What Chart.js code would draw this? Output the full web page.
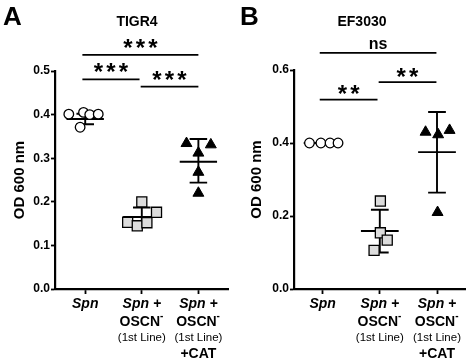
<!DOCTYPE html>
<html>
<head>
<meta charset="utf-8">
<title>OD 600 nm - TIGR4 / EF3030</title>
<script src="https://cdn.jsdelivr.net/npm/chart.js@4/dist/chart.umd.min.js"></script>
<style>
    body { margin: 0; background: #fff; }
    .panel { position: absolute; top: 0; width: 237px; height: 364px; }
</style>
</head>
<body>
<div class="panel" style="left: 0;"><canvas id="chart-a"></canvas></div>
<div class="panel" style="left: 237px;"><canvas id="chart-b"></canvas></div>

<script>
// -------------------------------------------------------------
// DATA
// -------------------------------------------------------------

const categories = [1, 2, 3];
const categoryLabels = [
    ['Spn'],
    ['Spn +', 'OSCN-', '(1st Line)'],
    ['Spn +', 'OSCN-', '(1st Line)', '+CAT']
];

// Panel A - TIGR4
const tigrSpnX = [-0.29, -0.03, 0.08, 0.23, -0.09];
const tigrSpnY = [0.401, 0.405, 0.400, 0.401, 0.371];
const tigrOscnX = [0.00, 0.26, -0.25, -0.08, 0.09];
const tigrOscnY = [0.200, 0.176, 0.153, 0.145, 0.152];
const tigrCatX = [-0.21, 0.22, 0.00, 0.00, 0.00];
const tigrCatY = [0.334, 0.331, 0.312, 0.268, 0.220];
const tigrMean = [0.390, 0.165, 0.292];
const tigrSdHigh = [0.402, 0.187, 0.344];
const tigrSdLow = [0.378, 0.143, 0.244];
const tigrSigFrom = [0.95, 1.98, 0.95];
const tigrSigTo = [1.96, 3.00, 3.00];
const tigrSigY = [0.481, 0.464, 0.537];
const tigrSigText = ['***', '***', '***'];

// Panel B - EF3030
const efSpnX = [-0.23, -0.03, 0.13, 0.27];
const efSpnY = [0.400, 0.400, 0.400, 0.400];
const efOscnX = [0.01, 0.01, 0.13, -0.10];
const efOscnY = [0.241, 0.154, 0.134, 0.106];
const efCatX = [-0.20, 0.02, 0.22, 0.01];
const efCatY = [0.430, 0.423, 0.435, 0.210];
const efMean = [0.400, 0.159, 0.375];
const efSdHigh = [0.400, 0.217, 0.485];
const efSdLow = [0.400, 0.100, 0.264];
const efSigFrom = [0.95, 1.98, 0.95];
const efSigTo = [1.96, 2.99, 2.99];
const efSigY = [0.519, 0.567, 0.647];
const efSigText = ['**', '**', 'ns'];

// -------------------------------------------------------------
// HELPERS
// -------------------------------------------------------------

const FONT = 'Arial, "Liberation Sans", Helvetica, sans-serif';
const MEAN_HALF = 0.33;
const CAP_HALF = 0.155;

function toPoints(cat, offsets, values) {
    return values.map((v, i) => ({ x: cat + offsets[i], y: v }));
}

// mean line + SD whiskers as one broken line dataset
function errorBars(mean, hi, lo) {
    const pts = [];
    categories.forEach((c, i) => {
        pts.push({ x: c - MEAN_HALF, y: mean[i] }, { x: c + MEAN_HALF, y: mean[i] }, { x: c, y: null });
        pts.push({ x: c - CAP_HALF, y: hi[i] }, { x: c + CAP_HALF, y: hi[i] }, { x: c, y: null });
        pts.push({ x: c - CAP_HALF, y: lo[i] }, { x: c + CAP_HALF, y: lo[i] }, { x: c, y: null });
        pts.push({ x: c, y: hi[i] }, { x: c, y: lo[i] }, { x: c, y: null });
    });
    return pts;
}

function drawCentered(ctx, text, cx, cy) {
    // centre the real ink box of the glyphs on (cx, cy)
    const m = ctx.measureText(text);
    const base = cy + (m.actualBoundingBoxAscent - m.actualBoundingBoxDescent) / 2;
    ctx.fillText(text, cx, base);
}

const decorPlugin = {
    id: 'decor',
    afterDraw(chart, args, opts) {
        const { ctx, scales: { x, y } } = chart;
        ctx.save();
        ctx.fillStyle = '#000';
        ctx.strokeStyle = '#000';

        // panel letter
        ctx.textAlign = 'left';
        ctx.textBaseline = 'alphabetic';
        ctx.font = 'bold 26px ' + FONT;
        ctx.fillText(opts.letter, 3, 25);

        // title
        ctx.textAlign = 'center';
        ctx.font = 'bold 14px ' + FONT;
        drawCentered(ctx, opts.title, opts.titleX, 21);

        // significance bars
        ctx.lineWidth = 1.8;
        opts.sigFrom.forEach((from, i) => {
            const x1 = x.getPixelForValue(from);
            const x2 = x.getPixelForValue(opts.sigTo[i]);
            const yy = y.getPixelForValue(opts.sigY[i]);
            ctx.beginPath();
            ctx.moveTo(x1, yy);
            ctx.lineTo(x2, yy);
            ctx.stroke();

            const label = opts.sigText[i];
            const mid = (x1 + x2) / 2;
            if (label.startsWith('*')) {
                ctx.font = 'bold 24px ' + FONT;
                const n = label.length;
                for (let k = 0; k < n; k++) {
                    drawCentered(ctx, '*', mid + (k - (n - 1) / 2) * 12.5, yy - opts.starGap);
                }
            } else {
                ctx.font = 'bold 16px ' + FONT;
                drawCentered(ctx, label, mid, yy - 8);
            }
        });

        // category labels (mixed styles)
        const base = chart.chartArea.bottom;
        const lineY = [15.2, 32.7, 48.4, 65];
        ctx.textBaseline = 'middle';
        categoryLabels.forEach((lines, i) => {
            const cx = x.getPixelForValue(categories[i]);
            lines.forEach((line, j) => {
                const cy = base + lineY[j];
                ctx.textAlign = 'center';
                if (line.startsWith('Spn')) {
                    ctx.font = 'italic bold 14px ' + FONT;
                    ctx.fillText(line, cx, cy);
                } else if (line.startsWith('(')) {
                    ctx.font = '11.5px ' + FONT;
                    ctx.fillText(line, cx, cy);
                } else if (line.endsWith('-')) {
                    const body = line.slice(0, -1);
                    ctx.font = 'bold 14px ' + FONT;
                    const w = ctx.measureText(body).width;
                    ctx.textAlign = 'left';
                    ctx.fillText(body, cx - (w + 4) / 2, cy);
                    ctx.font = 'bold 10px ' + FONT;
                    ctx.fillText('-', cx - (w + 4) / 2 + w, cy - 5);
                } else {
                    ctx.font = 'bold 14px ' + FONT;
                    ctx.fillText(line, cx, cy);
                }
            });
        });

        ctx.restore();
    }
};

function buildChart(canvasId, cfg) {
    const ctx = document.getElementById(canvasId).getContext('2d');
    return new Chart(ctx, {
        type: 'scatter',
        data: {
            datasets: [
                {
                    type: 'line',
                    data: errorBars(cfg.mean, cfg.sdHigh, cfg.sdLow),
                    borderColor: '#000',
                    borderWidth: 1.9,
                    pointRadius: 0,
                    spanGaps: false,
                    order: 2
                },
                {
                    data: toPoints(1, cfg.spnX, cfg.spnY),
                    pointStyle: 'circle',
                    pointRadius: 4.8,
                    backgroundColor: '#fff',
                    borderColor: '#000',
                    borderWidth: 1.3,
                    order: 1
                },
                {
                    data: toPoints(2, cfg.oscnX, cfg.oscnY),
                    pointStyle: 'rect',
                    pointRadius: 7.1,
                    backgroundColor: '#dcdcdc',
                    borderColor: '#000',
                    borderWidth: 1.3,
                    order: 1
                },
                {
                    data: toPoints(3, cfg.catX, cfg.catY),
                    pointStyle: 'triangle',
                    pointRadius: 6.3,
                    backgroundColor: '#000',
                    borderColor: '#000',
                    borderWidth: 1,
                    order: 1
                }
            ]
        },
        options: {
            responsive: true,
            maintainAspectRatio: false,
            devicePixelRatio: 1,
            animation: false,
            events: [],
            layout: { padding: { top: cfg.padTop, right: cfg.padRight, left: 0, bottom: 0 } },
            plugins: {
                legend: { display: false },
                tooltip: { enabled: false },
                decor: {
                    letter: cfg.letter,
                    title: cfg.title,
                    titleX: cfg.titleX,
                    starGap: cfg.starGap,
                    sigFrom: cfg.sigFrom,
                    sigTo: cfg.sigTo,
                    sigY: cfg.sigY,
                    sigText: cfg.sigText
                }
            },
            scales: {
                x: {
                    type: 'linear',
                    min: cfg.xMin,
                    max: cfg.xMax,
                    afterBuildTicks: s => { s.ticks = categories.map(v => ({ value: v })); },
                    afterFit: s => { s.height = 75; },
                    ticks: { callback: () => '', padding: 0 },
                    grid: { drawOnChartArea: false, tickLength: 5, tickWidth: 1.8, tickColor: '#000' },
                    border: { color: '#000', width: 2.2 }
                },
                y: {
                    min: 0,
                    max: cfg.yMax,
                    afterFit: s => { s.width = cfg.axisLeft; },
                    ticks: {
                        stepSize: cfg.yStep,
                        padding: 1,
                        color: '#000',
                        font: { family: FONT, size: 12, weight: 'bold' },
                        callback: v => v.toFixed(1)
                    },
                    grid: { drawOnChartArea: false, tickLength: 4, tickWidth: 1.8, tickColor: '#000' },
                    border: { color: '#000', width: 2.2 },
                    title: {
                        display: true,
                        text: 'OD 600 nm',
                        color: '#000',
                        font: { family: FONT, size: 15, weight: 'bold' },
                        padding: { top: 11, bottom: 0 }
                    }
                }
            }
        },
        plugins: [decorPlugin]
    });
}

// -------------------------------------------------------------
// CHARTS
// -------------------------------------------------------------

buildChart('chart-a', {
    letter: 'A', title: 'TIGR4', titleX: 137, starGap: 11.5,
    axisLeft: 55, padTop: 71, padRight: 4, xMin: 0.466, xMax: 3.534,
    yMax: 0.5, yStep: 0.1,
    spnX: tigrSpnX, spnY: tigrSpnY,
    oscnX: tigrOscnX, oscnY: tigrOscnY,
    catX: tigrCatX, catY: tigrCatY,
    mean: tigrMean, sdHigh: tigrSdHigh, sdLow: tigrSdLow,
    sigFrom: tigrSigFrom, sigTo: tigrSigTo, sigY: tigrSigY, sigText: tigrSigText
});

buildChart('chart-b', {
    letter: 'B', title: 'EF3030', titleX: 125, starGap: 9.7,
    axisLeft: 57, padTop: 70, padRight: 2, xMin: 0.5, xMax: 3.5,
    yMax: 0.6, yStep: 0.2,
    spnX: efSpnX, spnY: efSpnY,
    oscnX: efOscnX, oscnY: efOscnY,
    catX: efCatX, catY: efCatY,
    mean: efMean, sdHigh: efSdHigh, sdLow: efSdLow,
    sigFrom: efSigFrom, sigTo: efSigTo, sigY: efSigY, sigText: efSigText
});
</script>
</body>
</html>
